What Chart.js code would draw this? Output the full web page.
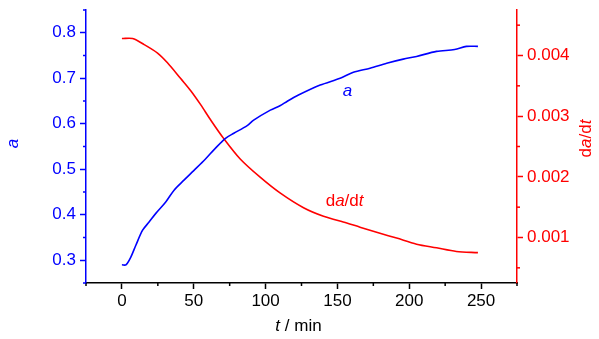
<!DOCTYPE html>
<html>
<head>
<meta charset="utf-8">
<script src="https://cdn.jsdelivr.net/npm/chart.js@4/dist/chart.umd.min.js"></script>
<style>
  html, body { margin: 0; padding: 0; background: #fff; }
  canvas { display: block; }
</style>
</head>
<body>
<canvas id="chart" width="599" height="339"></canvas>
<script>
// conversion a (left axis) vs time
const timeA = [0, 2.8, 6.2, 9.7, 14.4, 18.9, 23.6, 30.5, 36.3, 43.2, 50, 58, 65, 72.1, 77.9, 87.2, 91.7, 103.3, 110.3, 114.9, 122.9, 138, 151.9, 161.1, 172.7, 184.3, 195.8, 205.1, 219, 231.6, 239.8, 247.8];
const alpha = [0.290, 0.290, 0.307, 0.333, 0.366, 0.384, 0.403, 0.428, 0.454, 0.476, 0.497, 0.522, 0.546, 0.568, 0.579, 0.596, 0.608, 0.630, 0.640, 0.649, 0.663, 0.685, 0.700, 0.713, 0.722, 0.733, 0.742, 0.748, 0.759, 0.763, 0.770, 0.770];

// rate da/dt (right axis) vs time
const timeR = [0, 7.4, 15.5, 24.8, 31.7, 40.9, 47.9, 54.8, 61.7, 70.9, 82.5, 96.4, 110.3, 126.4, 140.3, 156.5, 165.7, 179.6, 191.2, 205.1, 219, 232.8, 247.8];
const rate = [0.00428, 0.00428, 0.00418, 0.00404, 0.00388, 0.00362, 0.00342, 0.00319, 0.00294, 0.00263, 0.00229, 0.00199, 0.00173, 0.00149, 0.00135, 0.00124, 0.00117, 0.00107, 0.00099, 0.00089, 0.00083, 0.00077, 0.00075];

// ticks
const xTicks = [0, 50, 100, 150, 200, 250];
const xMinor = [-25, 25, 75, 125, 175, 225, 275];
const leftTicks = [0.3, 0.4, 0.5, 0.6, 0.7, 0.8];
const leftMinor = [0.25, 0.35, 0.45, 0.55, 0.65, 0.75, 0.85];
const rightTicks = [0.001, 0.002, 0.003, 0.004];
const rightMinor = [0.0005, 0.0015, 0.0025, 0.0035, 0.0045];

const BLUE = "#0000ff";
const RED = "#ff0000";
const FONT = "'Liberation Sans', Arial, sans-serif";

function setTicks(values) {
  return (scale) => {
    scale.ticks = values.map((v) => ({ value: v }));
  };
}

function fitTo(prop, size) {
  return (scale) => {
    scale[prop] = size;
    scale.paddingTop = 0;
    scale.paddingBottom = 0;
    scale.paddingLeft = 0;
    scale.paddingRight = 0;
  };
}

// text made of normal and italic pieces, centred on (x, y)
function drawParts(ctx, parts, x, y, color) {
  ctx.fillStyle = color;
  ctx.textBaseline = "middle";
  ctx.textAlign = "left";
  let total = 0;
  parts.forEach((p) => {
    ctx.font = (p.italic ? "italic " : "") + "17px " + FONT;
    total += ctx.measureText(p.text).width;
  });
  let cx = x - total / 2;
  parts.forEach((p) => {
    ctx.font = (p.italic ? "italic " : "") + "17px " + FONT;
    ctx.fillText(p.text, cx, y);
    cx += ctx.measureText(p.text).width;
  });
}

const minorTicks = {
  id: "minorTicks",
  afterDraw(chart) {
    const ctx = chart.ctx;
    const { x, yA, yR } = chart.scales;
    ctx.save();
    ctx.lineWidth = 1.5;
    const seg = (x1, y1, x2, y2, c) => {
      ctx.strokeStyle = c;
      ctx.beginPath();
      ctx.moveTo(x1, y1);
      ctx.lineTo(x2, y2);
      ctx.stroke();
    };
    xMinor.forEach((v) => {
      const p = x.getPixelForValue(v);
      seg(p, x.top, p, x.top + 3, "#000");
    });
    leftMinor.forEach((v) => {
      const p = yA.getPixelForValue(v);
      seg(yA.right, p, yA.right - 3, p, BLUE);
    });
    rightMinor.forEach((v) => {
      const p = yR.getPixelForValue(v);
      seg(yR.left, p, yR.left + 3, p, RED);
    });
    ctx.restore();
  },
};

const titles = {
  id: "titles",
  afterDraw(chart) {
    const ctx = chart.ctx;
    const area = chart.chartArea;
    const midY = (area.top + area.bottom) / 2 - 6;
    ctx.save();
    drawParts(ctx, [{ text: "t", italic: true }, { text: " / min" }], (area.left + area.right) / 2 - 3, 326, "#000");

    ctx.save();
    ctx.translate(13, midY + 3);
    ctx.rotate(-Math.PI / 2);
    drawParts(ctx, [{ text: "a", italic: true }], 0, 0, BLUE);
    ctx.restore();

    ctx.save();
    ctx.translate(586, midY - 2);
    ctx.rotate(-Math.PI / 2);
    drawParts(ctx, [{ text: "d" }, { text: "a", italic: true }, { text: "/d" }, { text: "t", italic: true }], 0, 0, RED);
    ctx.restore();

    // labels next to the curves
    const { x, yA, yR } = chart.scales;
    drawParts(ctx, [{ text: "a", italic: true }], x.getPixelForValue(157), yA.getPixelForValue(0.672), BLUE);
    drawParts(ctx, [{ text: "d" }, { text: "a", italic: true }, { text: "/d" }, { text: "t", italic: true }], x.getPixelForValue(155), yR.getPixelForValue(0.00159), RED);
    ctx.restore();
  },
};

new Chart(document.getElementById("chart"), {
  type: "line",
  data: {
    datasets: [
      {
        label: "a",
        data: timeA.map((t, i) => ({ x: t, y: alpha[i] })),
        yAxisID: "yA",
        borderColor: BLUE,
        borderWidth: 1.6,
        pointRadius: 0,
        tension: 0.3,
      },
      {
        label: "da/dt",
        data: timeR.map((t, i) => ({ x: t, y: rate[i] })),
        yAxisID: "yR",
        borderColor: RED,
        borderWidth: 1.6,
        pointRadius: 0,
        tension: 0.3,
      },
    ],
  },
  options: {
    responsive: false,
    animation: false,
    layout: { padding: { top: 10, left: 0, right: 0, bottom: 0 } },
    plugins: { legend: { display: false }, tooltip: { enabled: false } },
    scales: {
      x: {
        type: "linear",
        min: -25,
        max: 275,
        afterBuildTicks: setTicks(xTicks),
        afterFit: fitTo("height", 56),
        grid: { drawOnChartArea: false, tickLength: 6, tickColor: "#000", tickWidth: 1.5 },
        border: { color: "#000", width: 1.5 },
        ticks: { color: "#000", font: { family: FONT, size: 17 }, padding: 2, maxRotation: 0 },
      },
      yA: {
        position: "left",
        min: 0.25,
        max: 0.85,
        afterBuildTicks: setTicks(leftTicks),
        afterFit: fitTo("width", 86),
        grid: { drawOnChartArea: false, tickLength: 6, tickColor: BLUE, tickWidth: 1.5 },
        border: { color: BLUE, width: 1.5 },
        ticks: { color: BLUE, font: { family: FONT, size: 17 }, padding: 4, callback: (v) => v.toFixed(1) },
      },
      yR: {
        position: "right",
        min: 0.00025,
        max: 0.00475,
        afterBuildTicks: setTicks(rightTicks),
        afterFit: fitTo("width", 82),
        grid: { drawOnChartArea: false, tickLength: 6, tickColor: RED, tickWidth: 1.5 },
        border: { color: RED, width: 1.5 },
        ticks: { color: RED, font: { family: FONT, size: 17 }, padding: 4, callback: (v) => v.toFixed(3) },
      },
    },
  },
  plugins: [minorTicks, titles],
});
</script>
</body>
</html>
